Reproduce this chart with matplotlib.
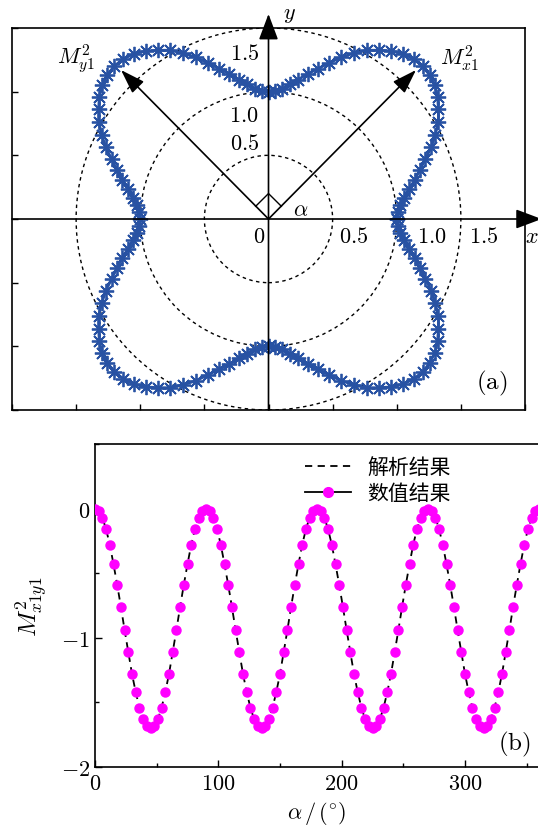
import numpy as np
import matplotlib
matplotlib.use('Agg')
import matplotlib.pyplot as plt
from matplotlib.patches import Circle
from matplotlib.lines import Line2D
from matplotlib.ticker import MultipleLocator, FuncFormatter

plt.rcParams['mathtext.fontset'] = 'cm'
plt.rcParams['font.family'] = ['DejaVu Serif']

# rotation angle alpha (deg)
alpha = np.arange(0, 361, 3)

# M^2_x1 (polar curve, panel a)
m2_x1 = [
    1.00, 1.01, 1.03, 1.07, 1.12, 1.18, 1.24, 1.31, 1.39, 1.46, 1.53, 1.58, 1.63, 1.67, 1.69,
    1.70, 1.69, 1.67, 1.63, 1.58, 1.53, 1.46, 1.39, 1.31, 1.24, 1.18, 1.12, 1.07, 1.03, 1.01,
    1.00, 1.01, 1.03, 1.07, 1.12, 1.18, 1.24, 1.31, 1.39, 1.46, 1.53, 1.58, 1.63, 1.67, 1.69,
    1.70, 1.69, 1.67, 1.63, 1.58, 1.53, 1.46, 1.39, 1.31, 1.24, 1.18, 1.12, 1.07, 1.03, 1.01,
    1.00, 1.01, 1.03, 1.07, 1.12, 1.18, 1.24, 1.31, 1.39, 1.46, 1.53, 1.58, 1.63, 1.67, 1.69,
    1.70, 1.69, 1.67, 1.63, 1.58, 1.53, 1.46, 1.39, 1.31, 1.24, 1.18, 1.12, 1.07, 1.03, 1.01,
    1.00, 1.01, 1.03, 1.07, 1.12, 1.18, 1.24, 1.31, 1.39, 1.46, 1.53, 1.58, 1.63, 1.67, 1.69,
    1.70, 1.69, 1.67, 1.63, 1.58, 1.53, 1.46, 1.39, 1.31, 1.24, 1.18, 1.12, 1.07, 1.03, 1.01,
    1.00]

# M^2_x1y1 (panel b)
m2_x1y1 = [
    0.00, -0.02, -0.07, -0.16, -0.28, -0.43, -0.59, -0.76, -0.94, -1.11, -1.28, -1.42, -1.54, -1.63, -1.68,
    -1.70, -1.68, -1.63, -1.54, -1.42, -1.28, -1.11, -0.94, -0.76, -0.59, -0.43, -0.28, -0.16, -0.07, -0.02,
    0.00, -0.02, -0.07, -0.16, -0.28, -0.43, -0.59, -0.76, -0.94, -1.11, -1.28, -1.42, -1.54, -1.63, -1.68,
    -1.70, -1.68, -1.63, -1.54, -1.42, -1.28, -1.11, -0.94, -0.76, -0.59, -0.43, -0.28, -0.16, -0.07, -0.02,
    0.00, -0.02, -0.07, -0.16, -0.28, -0.43, -0.59, -0.76, -0.94, -1.11, -1.28, -1.42, -1.54, -1.63, -1.68,
    -1.70, -1.68, -1.63, -1.54, -1.42, -1.28, -1.11, -0.94, -0.76, -0.59, -0.43, -0.28, -0.16, -0.07, -0.02,
    0.00, -0.02, -0.07, -0.16, -0.28, -0.43, -0.59, -0.76, -0.94, -1.11, -1.28, -1.42, -1.54, -1.63, -1.68,
    -1.70, -1.68, -1.63, -1.54, -1.42, -1.28, -1.11, -0.94, -0.76, -0.59, -0.43, -0.28, -0.16, -0.07, -0.02,
    0.00]

circle_r = [0.5, 1.0, 1.5]
labels_x = ['0.5', '1.0', '1.5']
labels_y = ['1.5', '1.0', '0.5']

blue = '#2852a3'
fs = 16

fig = plt.figure(figsize=(5.38, 8.29), dpi=100)

# ---------- (a) ----------
ax1 = fig.add_axes([12 / 538, 1 - 411 / 829, 513 / 538, 382 / 829])
ax1.set_xlim(-2, 2)
ax1.set_ylim(-1.5, 1.5)
ax1.xaxis.set_major_locator(MultipleLocator(0.5))
ax1.yaxis.set_major_locator(MultipleLocator(0.5))
ax1.tick_params(direction='in', length=4, width=1, labelbottom=False, labelleft=False)
for s in ax1.spines.values():
    s.set_linewidth(1.2)

for rc in circle_r:
    ax1.add_patch(Circle((0, 0), rc, fill=False, ls=(0, (2.5, 2.5)), lw=1.0, color='k'))

a_rad = np.deg2rad(alpha)
r = np.array(m2_x1)
ax1.plot(r * np.cos(a_rad), r * np.sin(a_rad), color=blue, lw=2,
         marker=(8, 2, 0), ms=11, mew=1.3, mec=blue)

axis_style = dict(arrowstyle='-|>,head_length=0.8,head_width=0.3', mutation_scale=20,
                  color='k', lw=1.2, shrinkA=0, shrinkB=0)
ax1.annotate('', xy=(0, 1.61), xytext=(0, -1.5), arrowprops=axis_style, annotation_clip=False)
ax1.annotate('', xy=(2.13, 0), xytext=(-2, 0), arrowprops=axis_style, annotation_clip=False)
vec_style = dict(arrowstyle='-|>,head_length=0.75,head_width=0.25', mutation_scale=20,
                 color='k', lw=1.2, shrinkA=0, shrinkB=0)
ax1.annotate('', xy=(1.15, 1.17), xytext=(0, 0), arrowprops=vec_style)
ax1.annotate('', xy=(-1.15, 1.17), xytext=(0, 0), arrowprops=vec_style)

# right angle marker
ax1.plot([0.1, 0, -0.1], [0.1, 0.2, 0.1], color='k', lw=1.0)

ax1.text(-0.07, -0.13, '$0$', fontsize=fs, ha='center', va='center')
for xv, lab in zip([0.66, 1.27, 1.68], labels_x):
    ax1.text(xv, -0.13, '$%s$' % lab, fontsize=fs, ha='center', va='center')
for yv, lab in zip([1.30, 0.82, 0.60], labels_y):
    ax1.text(-0.19, yv, '$%s$' % lab, fontsize=fs, ha='center', va='center')
ax1.text(0.25, 0.08, r'$\alpha$', fontsize=fs, ha='center', va='center')
ax1.text(-1.50, 1.27, r'$M^2_{y1}$', fontsize=fs, ha='center', va='center')
ax1.text(1.49, 1.27, r'$M^2_{x1}$', fontsize=fs, ha='center', va='center')
ax1.text(0.16, 1.62, '$y$', fontsize=fs, ha='center', va='center', clip_on=False)
ax1.text(2.05, -0.13, '$x$', fontsize=fs, ha='center', va='center', clip_on=False)
ax1.text(1.74, -1.28, r'$\mathrm{(a)}$', fontsize=18, ha='center', va='center')

# ---------- (b) ----------
ax2 = fig.add_axes([95 / 538, 1 - 768 / 829, 444 / 538, 323 / 829])
ax2.plot(alpha, m2_x1y1, color='k', ls=(0, (4, 3)), lw=1.3, zorder=2)
ax2.plot(alpha, m2_x1y1, ls='none', marker='o', ms=6.5, color='magenta', zorder=3)
ax2.set_xlim(0, 360)
ax2.set_ylim(-2, 0.5)
ax2.xaxis.set_major_locator(MultipleLocator(100))
ax2.xaxis.set_minor_locator(MultipleLocator(50))
ax2.yaxis.set_major_locator(MultipleLocator(1))
ax2.yaxis.set_minor_locator(MultipleLocator(0.5))
ax2.tick_params(which='both', direction='in', width=1, labelsize=fs)
ax2.tick_params(which='major', length=5)
ax2.tick_params(which='minor', length=3)
mfmt = FuncFormatter(lambda v, p: '$%d$' % round(v))
ax2.xaxis.set_major_formatter(mfmt)
ax2.yaxis.set_major_formatter(mfmt)
for s in ax2.spines.values():
    s.set_linewidth(1.2)

ax2.set_xlabel(r'$\alpha\,/\,(^{\circ})$', fontsize=fs, labelpad=4)
ax2.set_ylabel(r'$M^2_{x1y1}$', fontsize=18, labelpad=8)
ax2.text(0.945, 0.072, r'$\mathrm{(b)}$', fontsize=18, ha='center', va='center',
         transform=ax2.transAxes)

h1 = Line2D([], [], color='k', ls=(0, (4, 3)), lw=1.3)
h2 = Line2D([], [], color='k', ls='-', lw=1.3, marker='o', ms=7, mfc='magenta', mec='magenta')
ax2.legend([h1, h2], ['解析结果', '数值结果'], loc='upper left', bbox_to_anchor=(0.43, 1.02),
           frameon=False, handlelength=2.2, handletextpad=0.8, labelspacing=0.2,
           prop={'family': ['Noto Sans CJK SC', 'DejaVu Sans'], 'size': 15})

fig.savefig('out.png', dpi=100)
